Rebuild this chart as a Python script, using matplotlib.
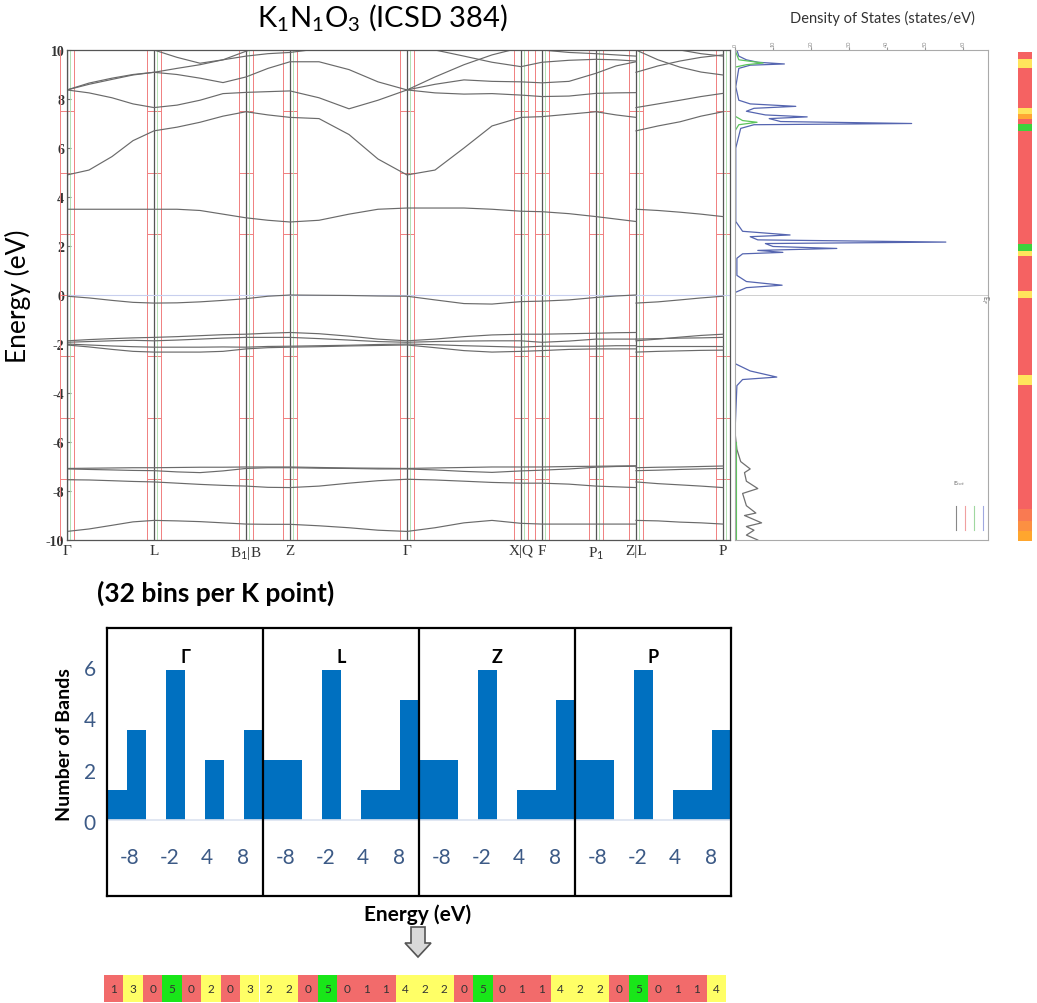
import numpy as np
import matplotlib
matplotlib.use('Agg')
import matplotlib.pyplot as plt
from matplotlib.patches import Polygon

plt.rcParams['font.family'] = ['Lato', 'DejaVu Sans']
plt.rcParams['mathtext.fontset'] = 'custom'
plt.rcParams['mathtext.rm'] = 'Lato'

# ---------------- band structure data ----------------
kpts = [0, 87, 179, 223, 340, 454, 475, 529, 569, 656]
klabels = ['Γ', 'L', 'B$_1$|B', 'Z', 'Γ', 'X|Q', 'F', 'P$_1$', 'Z|L', 'P']

# k samples where energies were read (Z|L doubled because of the jump)
k = [0, 22, 45, 66, 87, 110, 133, 156, 179, 201, 223, 252, 282, 311, 340,
     368, 397, 425, 454, 475, 502, 529, 549, 569, 569, 591, 613, 634, 656]
nan = np.nan

b_low = [-9.65, -9.55, -9.4, -9.26, -9.2, -9.22, -9.25, -9.3, -9.35, -9.36, -9.36, -9.42, -9.5, -9.6, -9.65,
         -9.5, -9.3, -9.2, -9.32, -9.35, -9.35, -9.35, -9.35, -9.35, -9.2, -9.22, -9.27, -9.3, -9.35]
b_76 = [-7.54, -7.55, -7.58, -7.61, -7.63, -7.68, -7.73, -7.77, -7.8, -7.85, -7.86, -7.8, -7.68, -7.58, -7.52,
        -7.55, -7.6, -7.65, -7.68, -7.68, -7.72, -7.8, -7.83, -7.86, -7.63, -7.7, -7.75, -7.8, -7.86]
b_71 = [-7.1, -7.12, -7.14, -7.16, -7.17, -7.22, -7.25, -7.18, -7.08, -7.05, -7.05, -7.07, -7.08, -7.1, -7.1,
        -7.14, -7.2, -7.24, -7.18, -7.15, -7.1, -7.03, -7.0, -6.99, -7.17, -7.15, -7.12, -7.1, -7.08]
b_70 = [-7.08, -7.07, -7.06, -7.05, -7.05, -7.04, -7.03, -7.03, -7.02, -7.02, -7.02, -7.04, -7.06, -7.07, -7.08,
        -7.06, -7.04, -7.02, -7.02, -7.02, -7.0, -6.99, -6.98, -6.97, -7.05, -7.03, -7.02, -7.0, -6.98]
v1 = [-1.87, -1.82, -1.78, -1.75, -1.73, -1.7, -1.66, -1.62, -1.6, -1.56, -1.53, -1.58, -1.68, -1.8, -1.87,
      -1.8, -1.7, -1.63, -1.6, -1.6, -1.58, -1.56, -1.54, -1.53, -1.87, -1.8, -1.72, -1.65, -1.6]
v2 = [-1.93, -1.9, -1.87, -1.85, -1.87, -1.84, -1.8, -1.76, -1.73, -1.73, -1.73, -1.78, -1.84, -1.9, -1.93,
      -1.9, -1.88, -1.87, -1.87, -1.93, -1.88, -1.8, -1.8, -1.8, -1.8, -1.78, -1.76, -1.75, -1.73]
v3 = [-2.0, -2.04, -2.08, -2.11, -2.13, -2.13, -2.13, -2.12, -2.13, -2.1, -2.09, -2.07, -2.05, -2.02, -2.0,
      -2.03, -2.07, -2.1, -2.13, -2.09, -2.09, -2.09, -2.07, -2.07, -2.07, -2.07, -2.07, -2.07, -2.07]
v4 = [-2.04, -2.12, -2.22, -2.3, -2.33, -2.33, -2.33, -2.3, -2.2, -2.15, -2.13, -2.11, -2.08, -2.06, -2.04,
      -2.15, -2.27, -2.33, -2.3, -2.27, -2.22, -2.2, -2.2, -2.2, -2.33, -2.3, -2.28, -2.26, -2.25]
vtop = [-0.05, -0.12, -0.22, -0.3, -0.33, -0.32, -0.28, -0.22, -0.15, -0.05, 0.0, -0.01, -0.02, -0.04, -0.05,
        -0.2, -0.35, -0.37, -0.27, -0.25, -0.2, -0.1, -0.04, 0.0, -0.33, -0.28, -0.2, -0.12, -0.05]
c_35 = [3.5, 3.5, 3.5, 3.5, 3.5, 3.5, 3.45, 3.3, 3.15, 3.05, 2.98, 3.05, 3.3, 3.5, 3.55,
        3.55, 3.55, 3.5, 3.42, 3.4, 3.32, 3.2, 3.1, 3.0, 3.5, 3.45, 3.38, 3.3, 3.2]
c1 = [4.9, 5.1, 5.65, 6.3, 6.7, 6.85, 7.05, 7.3, 7.48, 7.35, 7.25, 7.2, 6.55, 5.55, 4.9,
      5.1, 6.0, 6.9, 7.25, 7.28, 7.38, 7.48, 7.35, 7.25, 6.7, 6.9, 7.07, 7.3, 7.48]
c2 = [8.37, 8.25, 8.05, 7.8, 7.65, 7.75, 7.95, 8.22, 8.27, 8.3, 8.33, 8.05, 7.6, 7.95, 8.37,
      8.25, 8.2, 8.22, 8.16, 8.1, 8.12, 8.23, 8.25, 8.26, 7.65, 7.8, 7.95, 8.1, 8.23]
c3 = [8.37, 8.6, 8.8, 8.98, 9.09, 9.0, 8.85, 8.67, 8.9, 9.25, 9.52, 9.52, 9.2, 8.7, 8.37,
      8.6, 8.78, 8.72, 8.7, 8.66, 8.72, 9.05, 9.35, 9.52, 9.09, 9.35, 9.55, 9.7, 9.8]
c4 = [8.37, 8.65, 8.85, 9.0, 9.09, 9.25, 9.4, 9.6, 9.75, 9.85, 9.9, 10.05, 10.4, 10.8, 11.0,
      10.0, 9.75, 9.5, 9.32, 9.5, 9.58, 9.62, 9.6, 9.55, 10.0, 9.6, 9.3, 9.1, 8.98]
c5 = [10.6, 10.3, 10.1, 10.05, 10.0, 9.7, 9.46, 9.6, 9.95, 10.2, 10.4, nan, nan, nan, 8.37,
      8.9, 9.4, 9.8, 10.1, 10.3, nan, nan, nan, nan, nan, nan, nan, nan, nan]
c6 = [nan, nan, nan, nan, nan, nan, nan, nan, nan, nan, nan, nan, nan, nan, nan,
      nan, nan, nan, 10.2, 10.0, 9.9, 9.85, 9.8, 9.75, 10.4, 10.2, 10.0, 9.85, 9.75]
bands = [b_low, b_76, b_71, b_70, v1, v2, v3, v4, vtop, c_35, c1, c2, c3, c4, c5, c6]

# ---------------- density of states ----------------
dos_E = [10.0, 9.75, 9.6, 9.5, 9.43, 9.38, 9.25, 8.5, 7.95, 7.8, 7.7, 7.62, 7.5, 7.35, 7.27, 7.2, 7.08,
         7.0, 6.95, 6.8, 6.0, 3.0, 2.6, 2.45, 2.38, 2.25, 2.16, 2.1, 1.98, 1.9, 1.82, 1.74, 1.68, 1.5,
         0.8, 0.55, 0.4, 0.3, 0.1, -2.8, -3.1, -3.35, -3.45, -3.7, -5.6]
dos_tot = [0.05, 0.1, 0.3, 0.6, 1.3, 0.4, 0.1, 0.02, 0.1, 0.4, 1.6, 0.5, 0.3, 0.8, 1.9, 0.9, 1.2,
           4.65, 0.5, 0.15, 0.02, 0.02, 0.2, 1.45, 0.4, 0.6, 5.55, 0.8, 1.0, 2.68, 0.6, 1.26, 0.2, 0.05,
           0.05, 0.3, 1.24, 0.3, 0.0, 0.0, 0.4, 1.1, 0.2, 0.05, 0.0]
dos_low_E = [-5.6, -6.3, -6.8, -7.1, -7.25, -7.6, -7.9, -8.1, -8.6, -8.9, -9.0, -9.3, -9.45, -9.6, -9.8, -10.0]
dos_low = [0.0, 0.05, 0.15, 0.4, 0.25, 0.3, 0.6, 0.2, 0.3, 0.55, 0.25, 0.7, 0.3, 0.5, 0.3, 0.6]
dos_part_E = [10.0, 9.6, 9.47, 9.4, 9.3, 7.3, 7.12, 7.05, 6.95, 6.7]
dos_part = [0.0, 0.1, 0.74, 0.3, 0.0, 0.0, 0.2, 0.58, 0.1, 0.0]

# colour strip beside the DOS (energy edges, colours)
strip_edges = [10.0, 9.7, 9.36, 7.73, 7.46, 7.25, 7.05, 6.78, 2.15, 1.85, 1.67, 0.22, -0.05,
               -3.2, -3.63, -8.7, -9.2, -9.6, -10.0]
RED, YEL, GRN, ORA = '#F56262', '#FFE45C', '#3DD13D', '#FFA733'
strip_cols = [RED, YEL, RED, YEL, ORA, RED, GRN, RED, GRN, YEL, RED, YEL, RED, YEL, RED,
              '#F97A52', '#FC9042', '#FFA62E']

# ---------------- histogram data ----------------
panel_names = ['Γ', 'L', 'Z', 'P']
counts_G = [1, 3, 0, 5, 0, 2, 0, 3]
counts_L = [2, 2, 0, 5, 0, 1, 1, 4]
counts_Z = [2, 2, 0, 5, 0, 1, 1, 4]
counts_P = [2, 2, 0, 5, 0, 1, 1, 3]
e_labels = ['-8', '-2', '4', '8']
e_label_pos = [1.15, 3.2, 5.1, 7.0]
y_labels = [0, 2, 4, 6]
strip_vals = [1, 3, 0, 5, 0, 2, 0, 3, 2, 2, 0, 5, 0, 1, 1, 4,
              2, 2, 0, 5, 0, 1, 1, 4, 2, 2, 0, 5, 0, 1, 1, 4]

W, H = 1037, 1004
fig = plt.figure(figsize=(W / 100, H / 100), dpi=100)


def box(l, t, r, b):
    return [l / W, 1 - b / H, (r - l) / W, (b - t) / H]


# ---- band structure panel ----
ax = fig.add_axes(box(67, 51, 730, 541))
ax.set_xlim(0, 663)
ax.set_ylim(-10, 10)
red = '#F08080'
for kp in kpts:
    ax.axvline(kp - 7, color=red, lw=0.7, clip_on=False)
    ax.axvline(kp + 7, color=red, lw=0.7, clip_on=False)
    ax.hlines([-7.5, -5, -2.5, 0, 2.5, 5, 7.5], kp - 7, kp + 7, color=red, lw=0.7, clip_on=False)
    ax.axvline(kp + 2.5, color='#A8DCA8', lw=0.6)
    ax.axvline(kp, color='#555555', lw=0.9)
ax.axhline(0, color='#C8CFEE', lw=0.8)
for e in bands:
    ax.plot(k[:24], e[:24], color='#6A6A6A', lw=0.85)
    ax.plot(k[24:], e[24:], color='#6A6A6A', lw=0.85)
ax.set_yticks(range(-10, 11, 2))
ax.set_yticklabels([str(v) for v in range(-10, 11, 2)], family='Liberation Serif',
                   fontweight='bold', fontsize=10, color='#333333')
ax.set_xticks(kpts)
ax.set_xticklabels(klabels, family='Liberation Serif', fontsize=11, color='#333333')
ax.tick_params(axis='y', direction='in', length=3, pad=2, color='#777777')
ax.tick_params(axis='x', length=0, pad=3)
for s in ax.spines.values():
    s.set_color('#555555')
    s.set_linewidth(0.9)

# ---- DOS panel ----
ax2 = fig.add_axes(box(735, 51, 988, 541))
ax2.set_xlim(0, 6.66)
ax2.set_ylim(-10, 10)
ax2.axhline(0, color='#C8C8C8', lw=0.6)
ax2.plot(dos_tot, dos_E, color='#5565B0', lw=0.9)
ax2.plot(dos_low, dos_low_E, color='#707070', lw=0.9)
ax2.plot(dos_part, dos_part_E, color='#5CC45C', lw=0.9)
ax2.axvline(0.03, ymin=0.0, ymax=0.2, color='#5CC45C', lw=0.8)
ax2.xaxis.tick_top()
ax2.set_xticks(range(0, 7))
ax2.set_xticklabels([str(v * 10) for v in range(0, 7)], fontsize=4, rotation=90, color='#888888')
ax2.tick_params(axis='x', length=2, pad=1, color='#999999')
ax2.set_yticks([])
for s in ax2.spines.values():
    s.set_color('#AAAAAA')
ax2.text(0.965, 0.49, 'E$_F$', transform=ax2.transAxes, fontsize=5, rotation=-90, color='#666666')
ax2.text(0.86, 0.115, 'E$_{tot}$', transform=ax2.transAxes, fontsize=4.5, color='#666666')
for i, c in enumerate(['#888888', '#F0A0A0', '#A0D8A0', '#A0A8E0']):
    x0 = 0.875 + i * 0.035
    ax2.plot([x0, x0], [0.02, 0.07], transform=ax2.transAxes, color=c, lw=0.8)
fig.text(882 / W, 1 - 18 / H, 'Density of States (states/eV)', fontsize=10.5, ha='center',
         va='center', color='#333333')

# ---- colour strip ----
ax3 = fig.add_axes(box(1018, 53, 1032, 542))
ax3.set_ylim(-10, 10)
ax3.set_xlim(0, 1)
for i, c in enumerate(strip_cols):
    ax3.axhspan(strip_edges[i + 1], strip_edges[i], color=c, lw=0)
ax3.axis('off')

fig.text(382 / W, 1 - 18 / H, 'K$_1$N$_1$O$_3$ (ICSD 384)', fontsize=21, ha='center', va='center')
fig.text(18 / W, 1 - 296 / H, 'Energy (eV)', fontsize=19, rotation=90, ha='center', va='center')
fig.text(97 / W, 1 - 593 / H, '(32 bins per K point)', fontsize=19, fontweight='bold',
         ha='left', va='center')

# ---- histogram ----
ax4 = fig.add_axes(box(107, 629, 731, 897))
ax4.set_xlim(0, 32)
ax4.set_ylim(-2.53, 6.4)
ax4.axhline(0, color='#DCE3F0', lw=1.2)
for p, cnt in enumerate([counts_G, counts_L, counts_Z, counts_P]):
    xs = np.arange(8) + 8 * p + 0.5
    ax4.bar(xs, cnt, width=1.0, color='#0070C0', lw=0)
    ax4.text(8 * p + 4, 5.45, panel_names[p], fontsize=13, fontweight='bold', ha='center', va='center')
    for lab, pos in zip(e_labels, e_label_pos):
        ax4.text(8 * p + pos, -1.23, lab, fontsize=15, color='#3C5A86', ha='center', va='center')
for d in [8, 16, 24]:
    ax4.axvline(d, color='black', lw=1.6)
ax4.set_xticks([])
ax4.set_yticks([])
for s in ax4.spines.values():
    s.set_linewidth(1.6)

ax5 = fig.add_axes(box(107, 668, 108, 822))
ax5.set_ylim(0, 6)
ax5.set_yticks(y_labels)
ax5.set_yticklabels([str(v) for v in y_labels], fontsize=15, color='#3C5A86')
ax5.tick_params(axis='y', length=0, pad=8)
ax5.set_xticks([])
ax5.patch.set_visible(False)
for s in ax5.spines.values():
    s.set_visible(False)

fig.text(65 / W, 1 - 745 / H, 'Number of Bands', fontsize=14, fontweight='bold', rotation=90,
         ha='center', va='center')
fig.text(418 / W, 1 - 915 / H, 'Energy (eV)', fontsize=15, fontweight='bold', ha='center', va='center')

# down arrow
arrow_px = [(411, 928), (425, 928), (425, 944), (431, 944), (418, 958), (405, 944), (411, 944)]
fig.patches.append(Polygon([(x / W, 1 - y / H) for x, y in arrow_px], closed=True,
                           transform=fig.transFigure, facecolor='#D9D9D9', edgecolor='#555555', lw=1.2))

# ---- bottom strip of counts ----
ax6 = fig.add_axes(box(104, 976, 726, 1003))
ax6.set_xlim(0, 32)
ax6.set_ylim(0, 1)
for i, v in enumerate(strip_vals):
    if v >= 5:
        col = '#19E619'
    elif v >= 2:
        col = '#FFFF66'
    else:
        col = '#F26B6B'
    ax6.bar(i + 0.5, 1, width=1.0, color=col, lw=0)
    ax6.text(i + 0.5, 0.5, str(v), fontsize=8.5, ha='center', va='center', color='#333333')
ax6.axis('off')

fig.savefig('out.png', dpi=100)
